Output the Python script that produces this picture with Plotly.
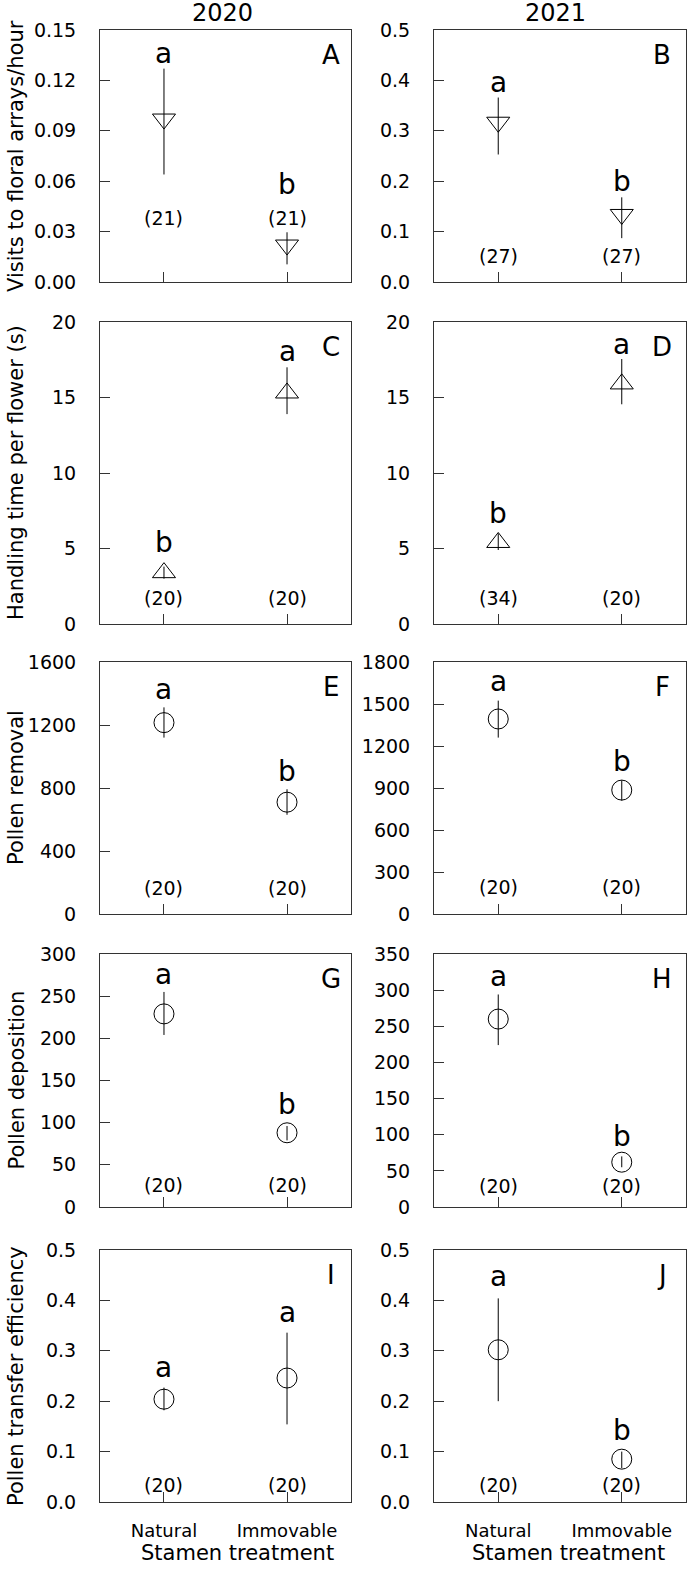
import plotly.graph_objects as go

# ---------------- data ----------------
categories = ["Natural", "Immovable"]
years = ["2020", "2021"]
panels = ["A", "B", "C", "D", "E", "F", "G", "H", "I", "J"]

# Visits to floral arrays/hour
A_mean = [0.097, 0.022]
A_low = [0.064, 0.0105]
A_high = [0.127, 0.0296]
A_n = [21, 21]
A_sig = ["a", "b"]

B_mean = [0.317, 0.134]
B_low = [0.253, 0.087]
B_high = [0.366, 0.168]
B_n = [27, 27]
B_sig = ["a", "b"]

# Handling time per flower (s)
C_mean = [3.4, 15.3]
C_low = [3.0, 13.9]
C_high = [3.8, 17.0]
C_n = [20, 20]
C_sig = ["b", "a"]

D_mean = [5.4, 15.9]
D_low = [4.9, 14.55]
D_high = [6.0, 17.55]
D_n = [34, 20]
D_sig = ["b", "a"]

# Pollen removal
E_mean = [1215, 710]
E_low = [1120, 630]
E_high = [1312, 792]
E_n = [20, 20]
E_sig = ["a", "b"]

F_mean = [1393, 885]
F_low = [1260, 810]
F_high = [1524, 955]
F_n = [20, 20]
F_sig = ["a", "b"]

# Pollen deposition
G_mean = [229, 88]
G_low = [204, 79]
G_high = [255, 96]
G_n = [20, 20]
G_sig = ["a", "b"]

H_mean = [260, 62]
H_low = [224, 55]
H_high = [294, 70]
H_n = [20, 20]
H_sig = ["a", "b"]

# Pollen transfer efficiency
I_mean = [0.204, 0.246]
I_low = [0.182, 0.154]
I_high = [0.227, 0.336]
I_n = [20, 20]
I_sig = ["a", "a"]

J_mean = [0.302, 0.085]
J_low = [0.200, 0.067]
J_high = [0.404, 0.100]
J_n = [20, 20]
J_sig = ["a", "b"]

row_titles = ["Visits to floral arrays/hour", "Handling time per flower (s)",
              "Pollen removal", "Pollen deposition", "Pollen transfer efficiency"]

y_max = [0.15, 0.5, 20, 20, 1600, 1800, 300, 350, 0.5, 0.5]
y_dtick = [0.03, 0.1, 5, 5, 400, 300, 50, 50, 0.1, 0.1]
y_fmt = [".2f", ".1f", "d", "d", "d", "d", "d", "d", ".1f", ".1f"]

# label positions (data units) for significance letters and sample sizes
sig_y = {"A": [0.136, 0.058], "B": [0.395, 0.199], "C": [5.41, 18.03],
         "D": [7.33, 18.48], "E": [1427, 904], "F": [1660, 1088],
         "G": [276, 121], "H": [319.5, 98], "I": [0.267, 0.376],
         "J": [0.447, 0.142]}
n_y = {"A": [0.038, 0.038], "B": [0.052, 0.052], "C": [1.7, 1.7],
       "D": [1.7, 1.7], "E": [163, 163], "F": [195, 195], "G": [26, 26],
       "H": [29, 29], "I": [0.033, 0.033], "J": [0.033, 0.033]}

data = {
    "A": (A_mean, A_low, A_high, A_n, A_sig),
    "B": (B_mean, B_low, B_high, B_n, B_sig),
    "C": (C_mean, C_low, C_high, C_n, C_sig),
    "D": (D_mean, D_low, D_high, D_n, D_sig),
    "E": (E_mean, E_low, E_high, E_n, E_sig),
    "F": (F_mean, F_low, F_high, F_n, F_sig),
    "G": (G_mean, G_low, G_high, G_n, G_sig),
    "H": (H_mean, H_low, H_high, H_n, H_sig),
    "I": (I_mean, I_low, I_high, I_n, I_sig),
    "J": (J_mean, J_low, J_high, J_n, J_sig),
}

# ---------------- layout geometry ----------------
W, H = 688, 1571
FONT = "DejaVu Sans"
LINE = "#333333"
col_px = [(100, 351), (434, 686)]
row_px = [(30, 282), (322, 624), (662, 914), (954, 1207), (1250, 1502)]
xpos = [1, 2]

fig = go.Figure()
layout = dict(width=W, height=H, margin=dict(l=0, r=0, t=0, b=0, pad=0),
              paper_bgcolor="white", plot_bgcolor="white", showlegend=False,
              font=dict(family=FONT, color="black"))
annotations = []

for i, p in enumerate(panels):
    row, col = divmod(i, 2)
    k = i + 1
    xa = "x" if k == 1 else f"x{k}"
    ya = "y" if k == 1 else f"y{k}"
    mean, low, high, n, sig = data[p]
    if row == 0:
        sym = "triangle-down-open"
        size = 20
    elif row == 1:
        sym = "triangle-up-open"
        size = 20
    else:
        sym = "circle-open"
        size = 20
    fig.add_trace(go.Scatter(
        x=xpos, y=mean, mode="markers", xaxis=xa, yaxis=ya,
        marker=dict(symbol=sym, size=size, color="black",
                    line=dict(width=1, color="black")),
        error_y=dict(type="data", symmetric=False,
                     array=[h - m for h, m in zip(high, mean)],
                     arrayminus=[m - l for m, l in zip(mean, low)],
                     width=0, thickness=1, color="black"),
        hoverinfo="skip"))

    x0, x1 = col_px[col]
    t, b = row_px[row]
    xdom = [x0 / W, x1 / W]
    ydom = [1 - b / H, 1 - t / H]
    last_row = row == 4
    layout["xaxis" if k == 1 else f"xaxis{k}"] = dict(
        domain=xdom, anchor=ya, range=[0.48, 2.52], automargin=False,
        tickmode="array", tickvals=xpos, ticktext=categories,
        showticklabels=last_row, ticks="inside", ticklen=10,
        tickcolor=LINE, tickwidth=1, showline=True, linecolor=LINE,
        linewidth=1, mirror=True, showgrid=False, zeroline=False,
        tickfont=dict(family=FONT, size=18, color="black"),
        ticklabelstandoff=12, fixedrange=True)
    layout["yaxis" if k == 1 else f"yaxis{k}"] = dict(
        domain=ydom, anchor=xa, range=[0, y_max[i]], dtick=y_dtick[i],
        tick0=0, tickformat=y_fmt[i], ticks="inside", ticklen=10,
        automargin=False,
        tickcolor=LINE, tickwidth=1, showline=True, linecolor=LINE,
        linewidth=1, mirror=True, showgrid=False, zeroline=False,
        tickfont=dict(family=FONT, size=19, color="black"),
        ticklabelstandoff=19, fixedrange=True)

    # significance letters and sample sizes
    for j in range(2):
        annotations.append(dict(x=xpos[j], y=sig_y[p][j], xref=xa, yref=ya,
                                text=sig[j], showarrow=False,
                                font=dict(family=FONT, size=28, color="black"),
                                xanchor="center", yanchor="middle"))
        annotations.append(dict(x=xpos[j], y=n_y[p][j], xref=xa, yref=ya,
                                text=f"({n[j]})", showarrow=False,
                                font=dict(family=FONT, size=19, color="black"),
                                xanchor="center", yanchor="middle"))
    # panel letter
    annotations.append(dict(x=0.92 if col == 0 else 0.905, y=1,
                            xref=f"{xa} domain", yref=f"{ya} domain",
                            text=p, showarrow=False, yshift=-25,
                            font=dict(family=FONT, size=26, color="black"),
                            xanchor="center", yanchor="middle"))

# row (y-axis) titles
for r, title in enumerate(row_titles):
    t, b = row_px[r]
    annotations.append(dict(x=16 / W, y=1 - ((t + b) / 2) / H, xref="paper",
                            yref="paper", text=title, textangle=-90,
                            showarrow=False, xanchor="center", yanchor="middle",
                            font=dict(family=FONT, size=21, color="black")))

# year titles and x-axis titles
for c, yr in enumerate(years):
    annotations.append(dict(x=[222, 555][c] / W, y=1 - 13 / H, xref="paper",
                            yref="paper", text=yr, showarrow=False,
                            xanchor="center", yanchor="middle",
                            font=dict(family=FONT, size=24, color="black")))
    annotations.append(dict(x=[237, 568][c] / W, y=1 - 1553 / H, xref="paper",
                            yref="paper", text="Stamen treatment",
                            showarrow=False, xanchor="center",
                            yanchor="middle",
                            font=dict(family=FONT, size=21, color="black")))

layout["annotations"] = annotations
fig.update_layout(**layout)
fig.write_html("out.html", config={"displayModeBar": False},
               post_script="document.body.style.margin='0';document.body.style.overflow='hidden';")
